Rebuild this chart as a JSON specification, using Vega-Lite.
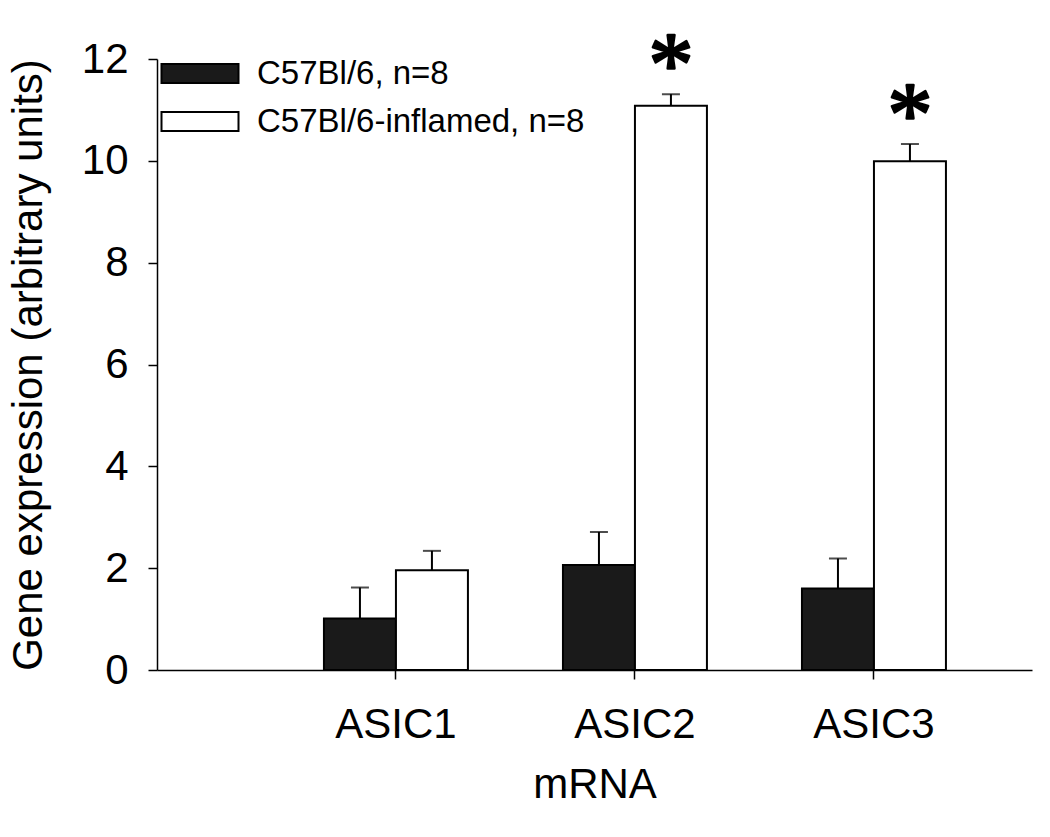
{
  "$schema": "https://vega.github.io/schema/vega-lite/v6.json",
  "width": 875,
  "height": 611,
  "autosize": {"type": "none"},
  "padding": {"left": 157, "top": 59, "right": 18, "bottom": 167},
  "background": "white",
  "config": {
    "view": {"stroke": null},
    "font": "Liberation Sans",
    "axis": {"domainColor": "black", "domainWidth": 1.5, "tickColor": "black", "tickWidth": 1.5, "labelColor": "black", "titleColor": "black", "grid": false, "labelFont": "Liberation Sans", "titleFont": "Liberation Sans", "titleFontWeight": "normal"}
  },
  "data": {
    "values": [
      {"mRNA": "ASIC1", "group": "C57Bl/6, n=8", "value": 1.01, "hi": 1.62, "sig": ""},
      {"mRNA": "ASIC1", "group": "C57Bl/6-inflamed, n=8", "value": 1.96, "hi": 2.34, "sig": ""},
      {"mRNA": "ASIC2", "group": "C57Bl/6, n=8", "value": 2.06, "hi": 2.71, "sig": ""},
      {"mRNA": "ASIC2", "group": "C57Bl/6-inflamed, n=8", "value": 11.08, "hi": 11.31, "sig": "*"},
      {"mRNA": "ASIC3", "group": "C57Bl/6, n=8", "value": 1.6, "hi": 2.19, "sig": ""},
      {"mRNA": "ASIC3", "group": "C57Bl/6-inflamed, n=8", "value": 9.99, "hi": 10.33, "sig": "*"}
    ]
  },
  "encoding": {
    "x": {
      "field": "mRNA", "type": "nominal",
      "scale": {"domain": ["ASIC1", "ASIC2", "ASIC3"], "paddingInner": 0, "paddingOuter": 0.3305, "align": 0.756},
      "axis": {"title": "mRNA", "labelAngle": 0, "labelFontSize": 42, "titleFontSize": 42, "tickSize": 9, "labelPadding": 25, "titlePadding": 19}
    },
    "xOffset": {
      "field": "group", "type": "nominal",
      "scale": {"domain": ["C57Bl/6, n=8", "C57Bl/6-inflamed, n=8"], "paddingInner": 0, "paddingOuter": 0.66}
    }
  },
  "layer": [
    {
      "mark": {"type": "bar", "stroke": "black", "strokeWidth": 2},
      "encoding": {
        "y": {
          "field": "value", "type": "quantitative",
          "scale": {"domain": [0, 12], "nice": false, "zero": true},
          "axis": {"title": "Gene expression (arbitrary units)", "values": [0, 2, 4, 6, 8, 10, 12], "labelFontSize": 42, "titleFontSize": 42, "tickSize": 9, "labelPadding": 20, "titlePadding": 31}
        },
        "fill": {
          "field": "group", "type": "nominal",
          "scale": {"domain": ["C57Bl/6, n=8", "C57Bl/6-inflamed, n=8"], "range": ["#1a1a1a", "#ffffff"]},
          "legend": {
            "title": null, "orient": "none", "legendX": 26.5, "legendY": -2, "padding": 0,
            "symbolType": "M-3.85,-0.95L3.85,-0.95L3.85,0.95L-3.85,0.95Z",
            "symbolSize": 400, "symbolStrokeColor": "black", "symbolStrokeWidth": 2,
            "labelFontSize": 33, "labelFont": "Liberation Sans", "labelColor": "black",
            "labelOffset": 40.5, "rowPadding": 14, "labelLimit": 500
          }
        }
      }
    },
    {
      "mark": {"type": "rule", "color": "black", "strokeWidth": 2},
      "encoding": {
        "y": {"field": "value", "type": "quantitative"},
        "y2": {"field": "hi"}
      }
    },
    {
      "mark": {"type": "tick", "color": "black", "thickness": 2, "size": 18},
      "encoding": {
        "y": {"field": "hi", "type": "quantitative"}
      }
    },
    {
      "mark": {"type": "text", "font": "Liberation Serif", "fontWeight": "normal", "fontSize": 90, "baseline": "alphabetic", "dy": 1, "color": "black", "stroke": "black", "strokeWidth": 2.5, "strokeJoin": "round"},
      "encoding": {
        "y": {"field": "hi", "type": "quantitative"},
        "text": {"field": "sig"}
      }
    }
  ]
}
